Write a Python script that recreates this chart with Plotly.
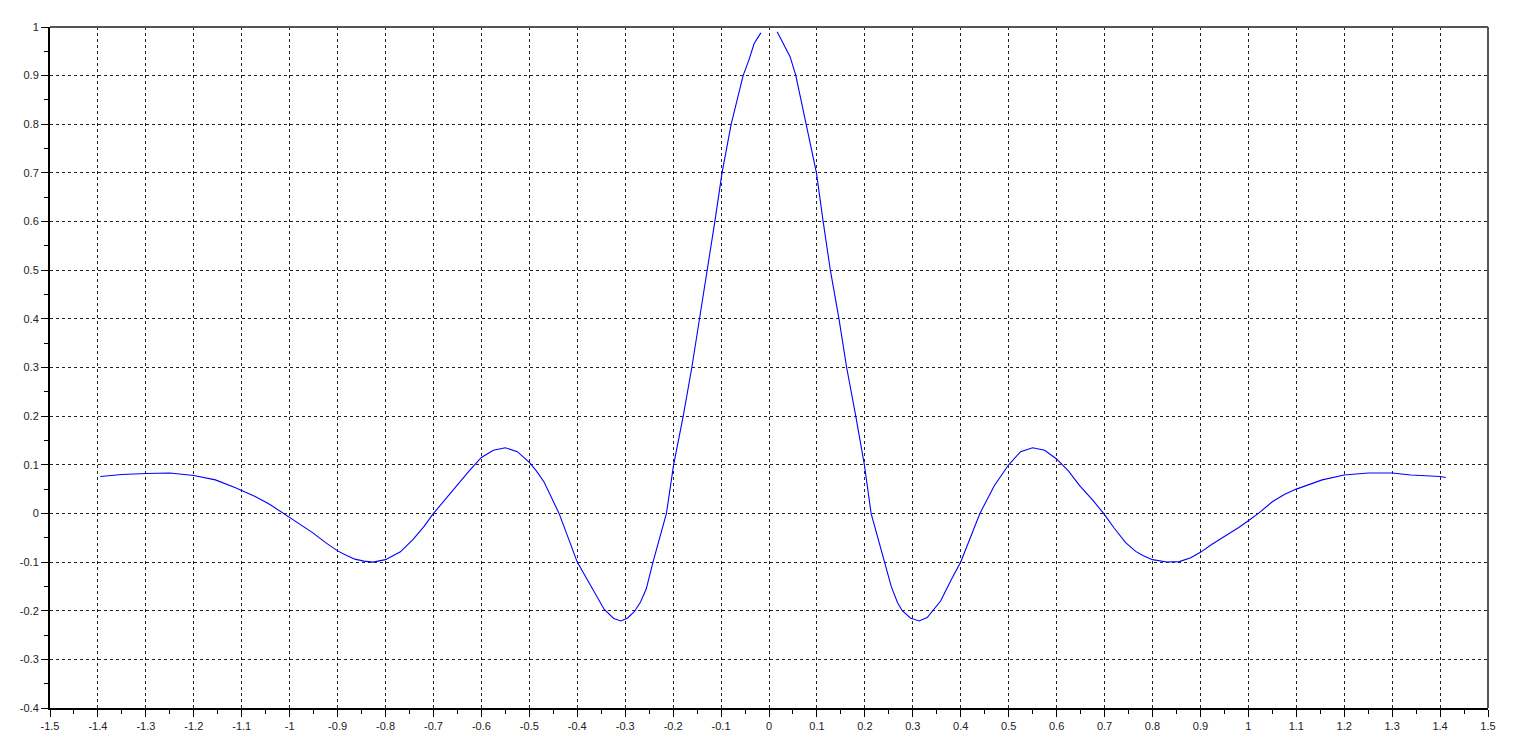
import plotly.graph_objects as go

# Curve samples (gap at x = 0)
x_left = [-1.395, -1.35, -1.30, -1.25, -1.20, -1.155, -1.113, -1.072, -1.042, -1.013,
          -0.975, -0.953, -0.925, -0.900, -0.880, -0.864, -0.845, -0.826, -0.800, -0.785,
          -0.769, -0.742, -0.720, -0.700, -0.675, -0.651, -0.625, -0.600, -0.575, -0.550,
          -0.525, -0.500, -0.485, -0.469, -0.438, -0.400, -0.372, -0.344, -0.324, -0.309,
          -0.295, -0.281, -0.268, -0.256, -0.242, -0.214, -0.199, -0.179, -0.161, -0.145,
          -0.128, -0.113, -0.098, -0.079, -0.054, -0.042, -0.031, -0.017]
y_left = [0.076, 0.080, 0.082, 0.083, 0.078, 0.069, 0.053, 0.035, 0.019, 0.0,
          -0.025, -0.039, -0.060, -0.077, -0.087, -0.094, -0.098, -0.100, -0.095, -0.088,
          -0.079, -0.053, -0.027, 0.0, 0.030, 0.057, 0.088, 0.115, 0.130, 0.135,
          0.127, 0.105, 0.087, 0.064, 0.0, -0.100, -0.149, -0.197, -0.216, -0.221,
          -0.215, -0.202, -0.182, -0.155, -0.100, 0.0, 0.100, 0.200, 0.300, 0.400,
          0.500, 0.600, 0.700, 0.800, 0.900, 0.932, 0.966, 0.988]

x_right = [0.017, 0.031, 0.044, 0.056, 0.078, 0.099, 0.113, 0.128, 0.146, 0.162,
           0.181, 0.199, 0.213, 0.240, 0.255, 0.268, 0.278, 0.295, 0.313, 0.330,
           0.358, 0.381, 0.400, 0.440, 0.470, 0.500, 0.525, 0.550, 0.575, 0.600,
           0.625, 0.648, 0.675, 0.698, 0.720, 0.744, 0.765, 0.781, 0.800, 0.830,
           0.856, 0.880, 0.900, 0.925, 0.954, 0.980, 1.000, 1.021, 1.050, 1.075,
           1.100, 1.154, 1.200, 1.250, 1.300, 1.339, 1.400, 1.412]
y_right = [0.990, 0.963, 0.939, 0.900, 0.800, 0.700, 0.600, 0.500, 0.400, 0.300,
           0.200, 0.100, 0.0, -0.100, -0.150, -0.183, -0.200, -0.215, -0.221, -0.214,
           -0.180, -0.135, -0.100, 0.0, 0.057, 0.100, 0.127, 0.135, 0.130, 0.112,
           0.087, 0.057, 0.028, 0.0, -0.030, -0.060, -0.078, -0.087, -0.095, -0.100,
           -0.099, -0.091, -0.080, -0.063, -0.046, -0.029, -0.015, 0.0, 0.024, 0.039,
           0.050, 0.069, 0.079, 0.083, 0.083, 0.079, 0.076, 0.074]

x_tick_vals = [-1.5, -1.4, -1.3, -1.2, -1.1, -1.0, -0.9, -0.8, -0.7, -0.6, -0.5, -0.4, -0.3,
               -0.2, -0.1, 0.0, 0.1, 0.2, 0.3, 0.4, 0.5, 0.6, 0.7, 0.8, 0.9, 1.0, 1.1, 1.2,
               1.3, 1.4, 1.5]
x_tick_text = ["-1.5", "-1.4", "-1.3", "-1.2", "-1.1", "-1", "-0.9", "-0.8", "-0.7", "-0.6",
               "-0.5", "-0.4", "-0.3", "-0.2", "-0.1", "0", "0.1", "0.2", "0.3", "0.4", "0.5",
               "0.6", "0.7", "0.8", "0.9", "1", "1.1", "1.2", "1.3", "1.4", "1.5"]
y_tick_vals = [-0.4, -0.3, -0.2, -0.1, 0.0, 0.1, 0.2, 0.3, 0.4, 0.5, 0.6, 0.7, 0.8, 0.9, 1.0]
y_tick_text = ["-0.4", "-0.3", "-0.2", "-0.1", "0", "0.1", "0.2", "0.3", "0.4", "0.5",
               "0.6", "0.7", "0.8", "0.9", "1"]

xs = x_left + [None] + x_right
ys = y_left + [None] + y_right

fig = go.Figure()
fig.add_trace(go.Scatter(x=xs, y=ys, mode="lines", connectgaps=False,
                         line=dict(color="#0000ff", width=1.1), showlegend=False))

common = dict(showline=True, linecolor="black", linewidth=2, ticks="outside", ticklen=7,
              tickwidth=1, tickcolor="black", showgrid=True, gridcolor="#222222",
              gridwidth=1, griddash="dot", zeroline=False,
              tickfont=dict(family="Liberation Sans, Arial, sans-serif", size=11,
                            color="#222222"))

fig.update_xaxes(range=[-1.5, 1.5], tickmode="array", tickvals=x_tick_vals,
                 ticktext=x_tick_text,
                 minor=dict(ticks="outside", ticklen=4, dtick=0.05, tick0=-1.5,
                            tickcolor="black", showgrid=False),
                 **common)
fig.update_yaxes(range=[-0.4, 1.0], tickmode="array", tickvals=y_tick_vals,
                 ticktext=y_tick_text,
                 minor=dict(ticks="outside", ticklen=4, dtick=0.05, tick0=-0.4,
                            tickcolor="black", showgrid=False),
                 **common)

# top and right frame lines
fig.add_shape(type="line", xref="paper", yref="paper", x0=0, x1=1, y0=1, y1=1,
              line=dict(color="#555555", width=2))
fig.add_shape(type="line", xref="paper", yref="paper", x0=1, x1=1, y0=0, y1=1,
              line=dict(color="#555555", width=2))

fig.update_layout(width=1501, height=736, plot_bgcolor="white", paper_bgcolor="white",
                  margin=dict(l=40, r=21, t=19, b=35), showlegend=False)

fig.write_html("out.html")
